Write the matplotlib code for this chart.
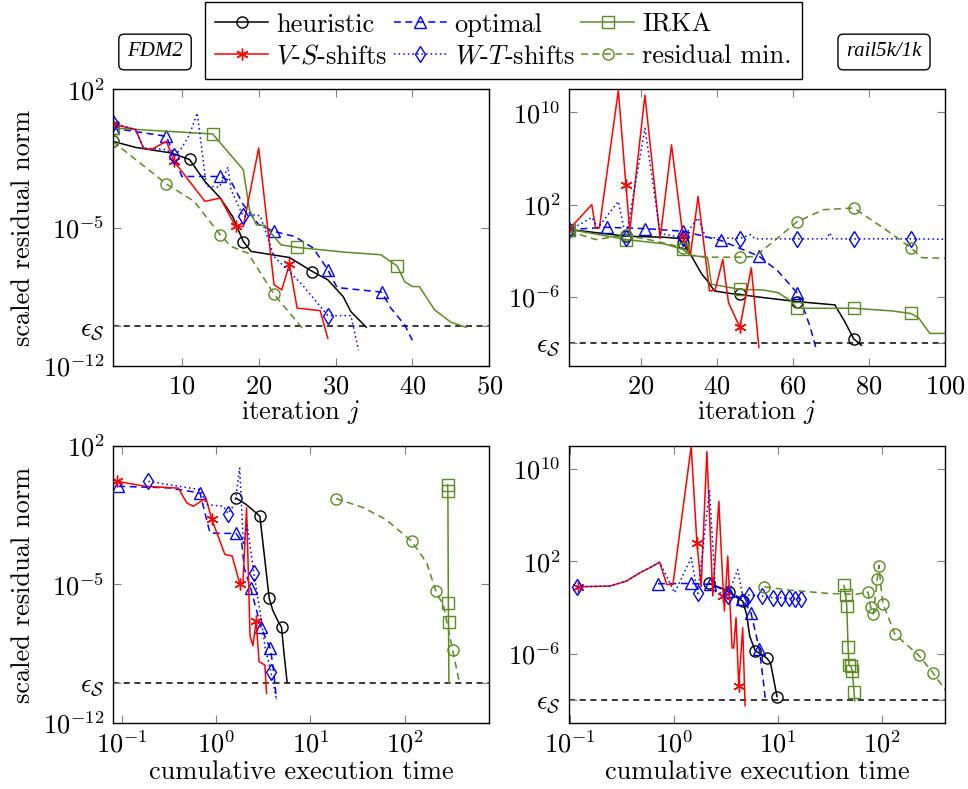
import numpy as np
import matplotlib
matplotlib.use("Agg")
import matplotlib.pyplot as plt
from matplotlib.ticker import NullLocator

plt.rcParams.update({
    "font.family": "cmr10",
    "mathtext.fontset": "cm",
    "axes.formatter.use_mathtext": True,
    "axes.unicode_minus": False,
    "font.size": 19,
})

green = "#5b8a23"
eps_s = 1e-10

# values below are log10 exponents
# --- FDM2, residual vs. iteration j
fdm_it_heur_j = [1, 4, 8.6, 11, 13, 15, 16.6, 18, 19, 24, 27, 29, 31, 32, 34]
fdm_it_heur_e = [-0.63, -0.94, -1.22, -1.55, -2.66, -3.5, -4.43, -5.7, -6.2, -6.51, -7.22, -7.64, -8.49, -9.25, -10.04]
fdm_it_opt_j = [1, 8, 9, 10, 15, 16.4, 18, 20, 22, 24.7, 27.1, 29, 30.2, 36, 37.2, 39, 40]
fdm_it_opt_e = [0.04, -0.38, -1.39, -2.41, -2.41, -2.66, -3.84, -4.85, -5.19, -5.45, -6.03, -7.13, -8.03, -8.26, -9.07, -9.92, -10.7]
fdm_it_irka_j = [1, 14, 18, 18.8, 19.7, 20.8, 22.9, 25, 31.2, 35.9, 38, 39, 40, 40.9, 42.9, 45, 47]
fdm_it_irka_e = [0.04, -0.26, -2.07, -4.09, -4.85, -4.89, -5.87, -6.0, -6.24, -6.37, -6.93, -7.73, -7.98, -7.98, -9.16, -9.78, -10.04]
fdm_it_vs_j = [1, 4, 5, 6, 8, 9, 13, 15, 17, 18, 20, 22, 23, 24, 25, 28, 29]
fdm_it_vs_e = [0.25, -0.04, -0.97, -1.05, -0.63, -1.65, -3.67, -3.5, -4.94, -4.94, -0.97, -7.89, -8.15, -6.85, -9.07, -9.2, -10.6]
fdm_it_wt_j = [1, 4, 5, 8, 9, 10, 11, 12, 13.2, 14.9, 16, 16.4, 18, 19.2, 20.2, 22, 25.7, 29, 32, 33]
fdm_it_wt_e = [0.3, -0.04, -0.97, -1.05, -1.39, -0.95, -0.3, 0.8, -2.9, -2.95, -1.93, -3.08, -4.43, -4.35, -4.4, -6.46, -7.9, -9.45, -9.45, -11.2]
fdm_it_res_j = [1, 8, 11.6, 15, 16.4, 18.6, 22, 25.7]
fdm_it_res_e = [-0.63, -2.79, -3.67, -5.36, -5.95, -6.29, -8.37, -10.1]

# --- rail5k/1k, residual vs. iteration j
rail_it_heur_j = [1, 5, 16, 26, 30, 31, 33, 36, 37.5, 39.3, 43.7, 46, 50, 61, 71, 73.5, 76, 78]
rail_it_heur_e = [-0.16, -0.31, -0.74, -0.83, -0.94, -1.31, -2.32, -4.05, -4.63, -5.49, -5.72, -5.78, -5.98, -6.41, -6.7, -8.08, -9.66, -10.2]
rail_it_opt_j = [1, 11, 21, 31, 36, 41, 46, 51, 56, 61, 63, 64.5, 66]
rail_it_opt_e = [-0.16, 0.03, -0.08, -0.31, -0.7, -1.11, -1.8, -2.47, -3.76, -5.63, -7.22, -8.6, -10.4]
rail_it_irka_j = [1, 8, 16, 26, 31, 33, 37.5, 38.5, 46, 52, 56, 59.5, 61, 76, 86, 91, 93, 96, 100]
rail_it_irka_e = [-0.16, -0.55, -1.03, -1.4, -1.89, -2.38, -2.6, -4.9, -5.35, -5.4, -5.63, -6.36, -6.99, -6.99, -7.22, -7.44, -7.8, -9.17, -9.17]
rail_it_vs_j = [1, 7, 8, 9, 14, 16, 17, 21, 25, 28, 31, 33, 35, 38, 39.5, 41.5, 43, 46, 49, 51]
rail_it_vs_e = [-0.16, 2.0, -0.02, -0.02, 11.9, 3.66, -0.31, 11.49, -0.94, 7.18, -0.74, -2.3, 2.71, -5.49, -5.4, -2.75, -6.5, -8.65, -3.47, -10.4]
rail_it_wt_j = [1, 4, 7, 8.6, 14, 16, 21, 25, 31, 35, 37, 46, 48.8, 50, 61, 69, 69.6, 70.5, 76, 91, 100]
rail_it_wt_e = [-0.16, 0.3, 0.9, -0.02, 2.28, -0.88, 8.62, -0.5, -0.88, 0.85, -0.85, -0.94, -0.6, -0.97, -0.97, -0.97, -0.44, -0.97, -0.97, -0.97, -1.0]
rail_it_res_j = [1, 8, 16, 24, 31, 33, 38, 46, 50, 56, 61, 68, 76, 85, 91, 94, 100]
rail_it_res_e = [-0.3, -1.03, -0.66, -1.17, -1.74, -2.4, -2.56, -2.56, -2.5, -0.88, 0.5, 1.56, 1.71, -0.31, -1.74, -2.6, -2.66]

# --- FDM2, residual vs. log10 cumulative time
fdm_t_heur_lt = [0.21, 0.32, 0.464, 0.563, 0.6, 0.65, 0.693, 0.72, 0.752]
fdm_t_heur_e = [-0.63, -0.96, -1.55, -5.7, -6.3, -6.8, -7.16, -8.5, -9.93]
fdm_t_opt_lt = [-1.035, -0.5, -0.17, -0.065, 0.04, 0.21, 0.27, 0.3, 0.367, 0.476, 0.572, 0.6, 0.64]
fdm_t_opt_e = [-0.04, -0.12, -0.38, -2.39, -2.42, -2.42, -2.8, -4.2, -5.2, -7.17, -8.22, -9.0, -10.8]
fdm_t_irka_lt = [2.452, 2.455, 2.46, 2.462, 2.466]
fdm_t_irka_e = [0.03, -0.27, -5.94, -6.88, -9.96]
fdm_t_vs_lt = [-1.046, -0.75, -0.4, -0.31, -0.24, -0.107, -0.047, 0.093, 0.17, 0.252, 0.285, 0.323, 0.36, 0.39, 0.425, 0.455, 0.517, 0.535]
fdm_t_vs_e = [0.21, -0.04, -0.13, -0.88, -1.05, -0.63, -1.68, -3.48, -3.56, -4.98, -4.9, -1.13, -7.6, -8.1, -6.83, -8.9, -9.07, -10.5]
fdm_t_wt_lt = [-0.718, -0.17, -0.1, 0.077, 0.128, 0.2, 0.25, 0.29, 0.33, 0.4, 0.47, 0.52, 0.58, 0.64]
fdm_t_wt_e = [0.21, -0.21, -0.96, -1.05, -1.42, -0.9, 0.88, -3.0, -2.0, -4.43, -6.5, -8.2, -9.42, -10.8]
fdm_t_res_lt = [1.27, 1.55, 1.8, 2.07, 2.23, 2.329, 2.41, 2.505, 2.576]
fdm_t_res_e = [-0.66, -1.1, -1.72, -2.81, -3.9, -5.35, -6.1, -8.3, -9.93]

# --- rail5k/1k, residual vs. log10 cumulative time
rail_t_heur_lt = [0.342, 0.45, 0.528, 0.6, 0.662, 0.7, 0.73, 0.784, 0.85, 0.896, 0.93, 0.992]
rail_t_heur_e = [0.09, -0.3, -0.66, -1.1, -1.44, -2.6, -4.5, -5.76, -6.1, -6.4, -6.8, -9.71]
rail_t_opt_lt = [-0.154, 0.16, 0.349, 0.518, 0.656, 0.742, 0.822, 0.86, 0.88]
rail_t_opt_e = [0.06, 0.09, 0.0, -0.58, -1.24, -2.45, -5.62, -8.3, -9.94]
rail_t_irka_lt = [1.638, 1.654, 1.664, 1.677, 1.686, 1.702, 1.718, 1.734, 1.741]
rail_t_irka_e = [-0.09, -0.95, -1.87, -5.39, -7.0, -7.06, -7.49, -9.31, -10.09]
rail_t_vs_lt = [-0.92, -0.618, -0.458, -0.33, -0.234, -0.138, -0.07, -0.01, 0.166, 0.221, 0.262, 0.317, 0.374, 0.432, 0.477, 0.486, 0.518, 0.56, 0.575, 0.598, 0.624, 0.662, 0.685]
rail_t_vs_e = [-0.2, -0.14, 0.29, 1.0, 1.44, 1.93, 0.0, 0.0, 11.96, 3.6, -0.2, 11.5, -1.0, 7.2, -1.0, -2.3, 2.45, -5.5, -5.5, -2.88, -8.79, -3.75, -10.5]
rail_t_wt_lt = [-0.938, -0.618, -0.458, -0.33, -0.234, -0.138, 0.006, 0.166, 0.23, 0.342, 0.4, 0.46, 0.518, 0.614, 0.66, 0.726, 0.848, 0.95, 1.03, 1.104, 1.168, 1.222]
rail_t_wt_e = [-0.2, -0.14, 0.29, 1.0, 1.44, 1.93, -0.72, 2.3, -0.78, 8.2, -0.6, -0.75, -1.0, 1.3, -0.9, -0.92, -1.0, -1.15, -1.15, -1.21, -1.24, -1.24]
rail_t_res_lt = [0.87, 1.11, 1.494, 1.75, 1.869, 1.894, 1.92, 1.94, 1.958, 1.974, 1.995, 2.013, 2.128, 2.358, 2.493, 2.65]
rail_t_res_e = [-0.2, -0.49, -0.78, -0.86, -0.66, -1.93, -2.56, -1.0, 0.49, 1.64, -0.3, -1.67, -4.32, -6.14, -7.64, -9.6]

labels = ["heuristic", "optimal", "IRKA", "$V$-$S$-shifts", "$W$-$T$-shifts", "residual min."]
styles = [
    dict(color="black", ls="-", marker="o"),
    dict(color="blue", ls=(0, (4.5, 3)), marker="^"),
    dict(color=green, ls="-", marker="s"),
    dict(color="red", ls="-", marker=(6, 2, 0)),
    dict(color="blue", ls=(0, (1, 2)), marker="d"),
    dict(color=green, ls=(0, (4.5, 3)), marker="o"),
]

fig = plt.figure(figsize=(9.68, 7.89), dpi=100)
ax_tl = fig.add_axes([0.1164, 0.5361, 0.3890, 0.3507])
ax_tr = fig.add_axes([0.5878, 0.5361, 0.3884, 0.3507])
ax_bl = fig.add_axes([0.1164, 0.0837, 0.3890, 0.3511])
ax_br = fig.add_axes([0.5878, 0.0837, 0.3884, 0.3511])


def draw(ax, x, e, k, mk, logx=False):
    x = np.asarray(x, float)
    if logx:
        x = 10.0 ** x
    st = styles[k]
    ms = 8 if st["marker"] in ("o", "s") else 8.5
    return ax.plot(x, 10.0 ** np.asarray(e), markevery=mk, mfc="none", ms=ms, mew=1.0,
                   lw=1.1, label=labels[k], **st)[0]


h = []
h.append(draw(ax_tl, fdm_it_heur_j, fdm_it_heur_e, 0, [0, 3, 7, 10]))
h.append(draw(ax_tl, fdm_it_opt_j, fdm_it_opt_e, 1, [0, 1, 4, 8, 11, 13]))
h.append(draw(ax_tl, fdm_it_irka_j, fdm_it_irka_e, 2, [0, 1, 7, 10]))
h.append(draw(ax_tl, fdm_it_vs_j, fdm_it_vs_e, 3, [0, 5, 8, 13]))
h.append(draw(ax_tl, fdm_it_wt_j, fdm_it_wt_e, 4, [0, 4, 12, 17]))
h.append(draw(ax_tl, fdm_it_res_j, fdm_it_res_e, 5, [0, 1, 3, 6]))

draw(ax_tr, rail_it_heur_j, rail_it_heur_e, 0, [0, 2, 5, 11, 13, 16])
draw(ax_tr, rail_it_opt_j, rail_it_opt_e, 1, [0, 1, 2, 3, 5, 7, 9])
draw(ax_tr, rail_it_irka_j, rail_it_irka_e, 2, [0, 2, 4, 8, 12, 13, 15])
draw(ax_tr, rail_it_vs_j, rail_it_vs_e, 3, [0, 5, 10, 17])
draw(ax_tr, rail_it_wt_j, rail_it_wt_e, 4, [0, 5, 8, 11, 14, 18, 19])
draw(ax_tr, rail_it_res_j, rail_it_res_e, 5, [0, 2, 4, 7, 10, 12, 14])

draw(ax_bl, fdm_t_heur_lt, fdm_t_heur_e, 0, [0, 2, 3, 6], True)
draw(ax_bl, fdm_t_opt_lt, fdm_t_opt_e, 1, [0, 2, 5, 8, 9, 10], True)
draw(ax_bl, fdm_t_irka_lt, fdm_t_irka_e, 2, [0, 1, 2, 3], True)
draw(ax_bl, fdm_t_vs_lt, fdm_t_vs_e, 3, [0, 6, 9, 14], True)
draw(ax_bl, fdm_t_wt_lt, fdm_t_wt_e, 4, [0, 4, 9, 12], True)
draw(ax_bl, fdm_t_res_lt, fdm_t_res_e, 5, [0, 3, 5, 7], True)

draw(ax_br, rail_t_heur_lt, rail_t_heur_e, 0, [0, 2, 4, 7, 9, 11], True)
draw(ax_br, rail_t_opt_lt, rail_t_opt_e, 1, [0, 1, 2, 3, 4, 5, 6], True)
draw(ax_br, rail_t_irka_lt, rail_t_irka_e, 2, [0, 1, 2, 3, 4, 5, 6, 7], True)
draw(ax_br, rail_t_vs_lt, rail_t_vs_e, 3, [0, 9, 14, 20], True)
draw(ax_br, rail_t_wt_lt, rail_t_wt_e, 4, [0, 8, 12, 15, 16, 17, 18, 19, 20, 21], True)
draw(ax_br, rail_t_res_lt, rail_t_res_e, 5, [0, 4, 5, 6, 8, 9, 11, 12, 13, 14], True)

eps_lab = r"$\epsilon_{\mathcal{S}}$"
for ax in (ax_tl, ax_tr, ax_bl, ax_br):
    ax.set_yscale("log")
    ax.axhline(eps_s, color="black", ls=(0, (4, 3)), lw=1.1, zorder=1)
    ax.tick_params(direction="in", which="both", top=True, right=True, length=6,
                   color="0.5", pad=6, labelsize=19)
    ax.yaxis.set_minor_locator(NullLocator())
    for s in ax.spines.values():
        s.set_linewidth(1.0)

for ax in (ax_tl, ax_bl):
    ax.set_ylim(1e-12, 1e2)
    ax.set_yticks([1e2, 1e-5, eps_s, 1e-12])
    ax.set_yticklabels([r"$10^{2}$", r"$10^{-5}$", eps_lab, r"$10^{-12}$"])
    ax.set_ylabel("scaled residual norm")
    ax.yaxis.set_label_coords(-0.205, 0.5)
for ax in (ax_tr, ax_br):
    ax.set_ylim(1e-12, 1e12)
    ax.set_yticks([1e10, 1e2, 1e-6, eps_s])
    ax.set_yticklabels([r"$10^{10}$", r"$10^{2}$", r"$10^{-6}$", eps_lab])

ax_tl.set_xlim(1, 50)
ax_tl.set_xticks([10, 20, 30, 40, 50])
ax_tr.set_xlim(1, 100)
ax_tr.set_xticks([20, 40, 60, 80, 100])
for ax in (ax_tl, ax_tr):
    ax.set_xlabel("iteration $j$")
    ax.xaxis.set_label_coords(0.5, -0.115)

ax_bl.set_xlim(10 ** -1.095, 10 ** 2.893)
ax_br.set_xlim(10 ** -1.011, 10 ** 2.61)
for ax in (ax_bl, ax_br):
    ax.set_xscale("log")
    ax.xaxis.set_minor_locator(NullLocator())
    ax.set_xticks([0.1, 1, 10, 100])
    ax.set_xticklabels([r"$10^{-1}$", r"$10^{0}$", r"$10^{1}$", r"$10^{2}$"])
    ax.set_xlabel("cumulative execution time")
    ax.xaxis.set_label_coords(0.5, -0.133)

box = dict(boxstyle="round,pad=0.4,rounding_size=0.25", fc="white", ec="black", lw=1.0)
fig.text(155 / 968, 1 - 52 / 789, "FDM2", family="Liberation Serif", style="italic",
         fontsize=15, ha="center", va="center", bbox=box)
fig.text(884 / 968, 1 - 52 / 789, "rail5k/1k", family="Liberation Serif", style="italic",
         fontsize=15, ha="center", va="center", bbox=box)

order = [0, 3, 1, 4, 2, 5]
fig.legend([h[i] for i in order], [labels[i] for i in order], loc="upper center",
           bbox_to_anchor=(0.52, 0.997), borderaxespad=0, ncol=3, fancybox=False,
           edgecolor="black", framealpha=1, handlelength=2.0, columnspacing=0.25,
           handletextpad=0.3, borderpad=0.4, labelspacing=0.3, fontsize=19)

fig.savefig("out.png", dpi=100)
